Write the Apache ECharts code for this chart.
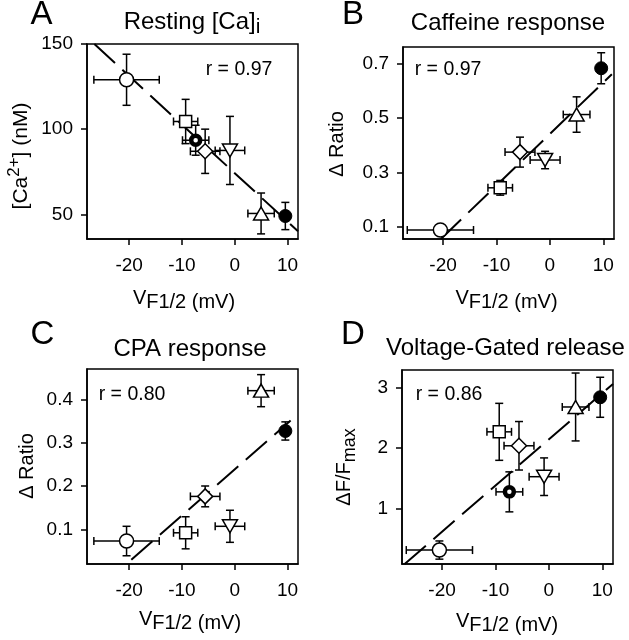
<!DOCTYPE html>
<html>
<head>
<meta charset="utf-8">
<title>VF1/2 correlations</title>
<script src="https://cdn.jsdelivr.net/npm/echarts@6/dist/echarts.min.js"></script>
<style>
  html, body { margin: 0; padding: 0; background: #fff; }
  #chart { width: 629px; height: 640px; }
</style>
</head>
<body>
<div id="chart"></div>
<script>
// V F1/2 (mV) of the seven groups, shared by all panels
var vHalf = [-20.5, -9.3, -7.4, -5.6, -0.9, 5.0, 9.6];
var vHalfErr = [6.2, 2.3, 2.5, 2.8, 2.8, 2.5, 0.8];

// panel values (null = group not shown)
var restCa = [129, 104.5, 93.5, 87, 87.5, 50.5, 49];
var restCaErr = [15, 13, 8.8, 13, 20, 12, 8];
var caffeine = [0.088, 0.243, null, 0.374, 0.345, 0.512, 0.682];
var caffeineErr = [0, 0.027, null, 0.055, 0.032, 0.065, 0.057];
var cpa = [0.073, 0.092, null, 0.176, 0.107, 0.42, 0.327];
var cpaErr = [0.034, 0.037, null, 0.024, 0.037, 0.037, 0.021];
var vgRelease = [0.32, 2.27, 1.28, 2.04, 1.53, 2.68, 2.84];
var vgReleaseErr = [0.15, 0.47, 0.33, 0.4, 0.31, 0.56, 0.33];

// regression lines, end points in data units
var fitA = [[-26.6, 150], [12, 40]];
var fitB = [[-20.4, 0.055], [11.6, 0.66]];
var fitC = [[-19.6, 0.03], [10.6, 0.351]];
var fitD = [[-27, 0.09], [12, 3.06]];

var xTicks = [-20, -10, 0, 10];
var yTicksA = [50, 100, 150];
var yTicksB = [0.1, 0.3, 0.5, 0.7];
var yTicksC = [0.1, 0.2, 0.3, 0.4];
var yTicksD = [1, 2, 3];
var rValues = ['0.97', '0.97', '0.80', '0.86'];

var FONT = '"Liberation Sans", Arial, Helvetica, sans-serif';

// marker look for each group: open circle, square, bullseye, diamond, down/up triangle, filled circle
var markers = [
  {symbol: 'circle', size: 14, fill: '#fff', bw: 1.5},
  {symbol: 'rect', size: 12, fill: '#fff', bw: 1.5},
  {symbol: 'circle', size: 9, fill: '#fff', bw: 4.5},
  {symbol: 'diamond', size: 15, fill: '#fff', bw: 1.5},
  {symbol: 'triangle', size: [15, 13], fill: '#fff', bw: 1.5, rotate: 180},
  {symbol: 'triangle', size: [15, 13], fill: '#fff', bw: 1.5},
  {symbol: 'circle', size: 13, fill: '#000', bw: 1}
];

var panels = [
  {grid: {left: 87, top: 44, width: 211, height: 195}, x: [-28, 12], y: [35.5, 150], yTicks: yTicksA,
    vals: restCa, errs: restCaErr, fit: fitA},
  {grid: {left: 403, top: 47, width: 211, height: 192}, x: [-27.5, 12], y: [0.055, 0.76], yTicks: yTicksB,
    vals: caffeine, errs: caffeineErr, fit: fitB},
  {grid: {left: 87, top: 369, width: 211, height: 195}, x: [-28, 12], y: [0.02, 0.47], yTicks: yTicksC,
    vals: cpa, errs: cpaErr, fit: fitC},
  {grid: {left: 402, top: 370, width: 211, height: 194}, x: [-27.5, 12], y: [0.09, 3.29], yTicks: yTicksD,
    vals: vgRelease, errs: vgReleaseErr, fit: fitD}
];

var renderErr = function (params, api) {
  var x = api.value(0), y = api.value(1), ex = api.value(2), ey = api.value(3);
  var c = 4;
  var st = {stroke: '#000', lineWidth: 1.5};
  var kids = [];
  var seg = function (x1, y1, x2, y2) {
    kids.push({type: 'line', shape: {x1: x1, y1: y1, x2: x2, y2: y2}, style: st});
  };
  if (ex > 0) {
    var l = api.coord([x - ex, y]), r = api.coord([x + ex, y]);
    seg(l[0], l[1], r[0], r[1]);
    seg(l[0], l[1] - c, l[0], l[1] + c);
    seg(r[0], r[1] - c, r[0], r[1] + c);
  }
  if (ey > 0) {
    var t = api.coord([x, y + ey]), b = api.coord([x, y - ey]);
    seg(t[0], t[1], b[0], b[1]);
    seg(t[0] - c, t[1], t[0] + c, t[1]);
    seg(b[0] - c, b[1], b[0] + c, b[1]);
  }
  return {type: 'group', children: kids};
};

var tickStyle = {color: '#000', width: 1.5};
var grids = [], xAxes = [], yAxes = [], series = [];

panels.forEach(function (p, i) {
  grids.push({
    left: p.grid.left, top: p.grid.top, width: p.grid.width, height: p.grid.height,
    show: true, borderColor: '#000', borderWidth: 1.5
  });
  xAxes.push({
    gridIndex: i, type: 'value', min: p.x[0], max: p.x[1],
    axisLine: {show: true, onZero: false, lineStyle: tickStyle},
    axisTick: {show: true, length: 6, lineStyle: tickStyle, customValues: xTicks},
    axisLabel: {customValues: xTicks, color: '#000', fontSize: 19, fontFamily: FONT, margin: 17},
    splitLine: {show: false}
  });
  yAxes.push({
    gridIndex: i, type: 'value', min: p.y[0], max: p.y[1],
    axisLine: {show: true, onZero: false, lineStyle: tickStyle},
    axisTick: {show: true, length: 6, lineStyle: tickStyle, customValues: p.yTicks},
    axisLabel: {customValues: p.yTicks, color: '#000', fontSize: 19, fontFamily: FONT, margin: 14},
    splitLine: {show: false}
  });

  series.push({
    type: 'line', xAxisIndex: i, yAxisIndex: i, data: p.fit,
    showSymbol: false, silent: true, z: 1,
    lineStyle: {color: '#000', width: 2, type: [28, 10]}
  });

  var errData = [], pts = [];
  p.vals.forEach(function (v, k) {
    if (v === null) return;
    errData.push([vHalf[k], v, vHalfErr[k], p.errs[k]]);
    var m = markers[k];
    pts.push({
      value: [vHalf[k], v],
      symbol: m.symbol, symbolSize: m.size, symbolRotate: m.rotate || 0,
      itemStyle: {color: m.fill, borderColor: '#000', borderWidth: m.bw, opacity: 1}
    });
  });
  series.push({
    type: 'custom', xAxisIndex: i, yAxisIndex: i, data: errData,
    renderItem: renderErr, silent: true, z: 2, clip: false,
    encode: {x: 0, y: 1}
  });
  series.push({
    type: 'scatter', xAxisIndex: i, yAxisIndex: i, data: pts, silent: true, z: 3
  });
});

// texts: panel letters, titles, r values, axis names
var txt = function (text, x, y, size, extra) {
  var el = {
    type: 'text', x: x, y: y, silent: true,
    style: {text: text, fill: '#000', fontSize: size, fontFamily: FONT, align: 'center', verticalAlign: 'middle'}
  };
  if (extra) {
    if (extra.rich) el.style.rich = extra.rich;
    if (extra.rotation) el.rotation = extra.rotation;
  }
  return el;
};

var sub = function (size, low, subSize, supSize) {
  return {
    n: {fontSize: size, fontFamily: FONT, color: '#000', verticalAlign: 'bottom', padding: [0, 0, low, 0]},
    s: {fontSize: subSize, fontFamily: FONT, color: '#000', verticalAlign: 'bottom'},
    u: {fontSize: supSize, fontFamily: FONT, color: '#000', verticalAlign: 'bottom', padding: [0, 0, low + 9, 0]}
  };
};

var xName = '{n|V}{s|F1/2 (mV)}';
var xRich = {
  n: {fontSize: 20, fontFamily: FONT, color: '#000', verticalAlign: 'bottom', padding: [0, 0, 4, 0]},
  s: {fontSize: 20, fontFamily: FONT, color: '#000', verticalAlign: 'bottom'}
};

var graphics = [
  txt('A', 41.5, 15, 33), txt('B', 353, 15, 33), txt('C', 42.5, 335, 33), txt('D', 353, 335, 33),
  txt('{n|Resting [Ca]}{s|i}', 192, 24, 24, {rich: sub(24, 3, 21, 16)}),
  txt('Caffeine response', 508, 23, 24),
  txt('CPA response', 190, 349.5, 24),
  txt('Voltage-Gated release', 505.5, 348.5, 24),
  txt('r = ' + rValues[0], 239, 70, 19.5),
  txt('r = ' + rValues[1], 448, 70, 19.5),
  txt('r = ' + rValues[2], 132, 395, 19.5),
  txt('r = ' + rValues[3], 449, 395, 19.5),
  txt(xName, 184, 300, 20, {rich: xRich}),
  txt(xName, 506.5, 300, 20, {rich: xRich}),
  txt(xName, 190, 621, 20, {rich: xRich}),
  txt(xName, 507, 623, 20, {rich: xRich}),
  txt('{n|[Ca}{u|2+}{n|] (nM)}', 19, 156, 21, {rotation: Math.PI / 2, rich: sub(21, 0, 18, 17)}),
  txt('\u0394 Ratio', 337.5, 144, 20, {rotation: Math.PI / 2}),
  txt('\u0394 Ratio', 27, 466, 20, {rotation: Math.PI / 2}),
  txt('{n|\u0394F/F}{s|max}', 347, 467, 20, {rotation: Math.PI / 2, rich: sub(20, 5, 18, 14)})
];

var chart = echarts.init(document.getElementById('chart'));
chart.setOption({
  animation: false,
  backgroundColor: '#fff',
  grid: grids,
  xAxis: xAxes,
  yAxis: yAxes,
  series: series,
  graphic: graphics
});
</script>
</body>
</html>
